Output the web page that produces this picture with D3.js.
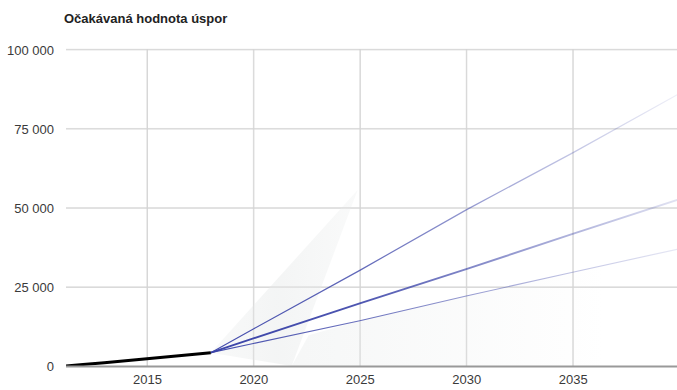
<!DOCTYPE html>
<html>
<head>
<meta charset="utf-8">
<script src="https://cdn.jsdelivr.net/npm/d3@7"></script>
<style>
  html, body { margin: 0; padding: 0; background: #fff; }
  svg { display: block; font-family: "Liberation Sans", Arial, sans-serif; }
</style>
</head>
<body>
<svg id="chart" width="677" height="390"></svg>
<script>
// Historical savings (black line)
const histYears  = [2011.2, 2012, 2013, 2014, 2015, 2016, 2017, 2018];
const histValues = [0, 450, 1050, 1650, 2300, 2900, 3550, 4200];

// Projection scenarios (blue lines)
const projYears   = [2018, 2020, 2025, 2030, 2035, 2040];
const projHigh    = [4200, 11700, 30200, 49300, 67300, 86000];
const projMid     = [4200, 8700, 19800, 30600, 41700, 52600];
const projLow     = [4200, 7100, 14300, 22100, 29600, 37000];

// Faint uncertainty wedge and shaded area below the low scenario
const wedgeYears  = [2018, 2024.9, 2021.8];
const wedgeValues = [4200, 55600, 0];
const shadeYears  = [2021.8, 2022.6, 2025, 2030, 2035, 2036.5, 2036.5];
const shadeValues = [0, 9700, 14300, 22100, 29600, 31700, 0];

const xTicks = [2015, 2020, 2025, 2030, 2035];
const yTicks = [0, 25000, 50000, 75000, 100000];
const title = "Očakávaná hodnota úspor";

const svg = d3.select("#chart");
const plotLeft = 66, plotRight = 677, plotTop = 49.3, plotBottom = 366;

const x = d3.scaleLinear().domain([2011.2, 2039.9]).range([plotLeft, plotRight]);
const y = d3.scaleLinear().domain([0, 100000]).range([plotBottom, plotTop]);

const defs = svg.append("defs");
defs.append("clipPath").attr("id", "plot")
  .append("rect").attr("x", plotLeft).attr("y", 0)
  .attr("width", plotRight - plotLeft).attr("height", plotBottom + 1);

// Title
svg.append("text")
  .attr("x", 64).attr("y", 23)
  .attr("font-size", 13).attr("font-weight", "bold").attr("fill", "#222")
  .text(title);

// Horizontal gridlines + labels
const yAxis = d3.axisLeft(y).tickValues(yTicks)
  .tickSize(-(plotRight - plotLeft)).tickPadding(12)
  .tickFormat(d => d3.format(",")(d).replace(/,/g, " "));
const gy = svg.append("g").attr("transform", `translate(${plotLeft},0)`).call(yAxis);
gy.select(".domain").remove();
gy.selectAll(".tick line").attr("stroke", "#d4d4d4").attr("stroke-width", 1);
gy.selectAll(".tick text").attr("font-size", 13).attr("fill", "#3a3a3a")
  .attr("font-family", "'Liberation Sans', Arial, sans-serif")
  .attr("dy", "0.38em");

// Vertical gridlines + labels
const xAxis = d3.axisBottom(x).tickValues(xTicks)
  .tickSize(-(plotBottom - plotTop)).tickPadding(9).tickFormat(d3.format("d"));
const gx = svg.append("g").attr("transform", `translate(0,${plotBottom})`).call(xAxis);
gx.select(".domain").remove();
gx.selectAll(".tick line").attr("stroke", "#d4d4d4").attr("stroke-width", 1);
gx.selectAll(".tick text").attr("font-size", 13).attr("fill", "#3a3a3a")
  .attr("font-family", "'Liberation Sans', Arial, sans-serif");

const plot = svg.append("g").attr("clip-path", "url(#plot)");

// Shading
const shadeGrad = defs.append("linearGradient").attr("id", "shadeGrad")
  .attr("gradientUnits", "userSpaceOnUse")
  .attr("x1", x(2021.8)).attr("x2", x(2036.5)).attr("y1", 0).attr("y2", 0);
shadeGrad.append("stop").attr("offset", 0).attr("stop-color", "#eef0f0").attr("stop-opacity", 0.55);
shadeGrad.append("stop").attr("offset", 1).attr("stop-color", "#eef0f0").attr("stop-opacity", 0);

const poly = d3.line().x(d => x(d[0])).y(d => y(d[1]));
plot.append("path")
  .attr("d", poly(d3.zip(shadeYears, shadeValues)) + "Z")
  .attr("fill", "url(#shadeGrad)");

const wedgeGrad = defs.append("linearGradient").attr("id", "wedgeGrad")
  .attr("gradientUnits", "userSpaceOnUse")
  .attr("x1", x(2018)).attr("x2", x(2024.9)).attr("y1", 0).attr("y2", 0);
wedgeGrad.append("stop").attr("offset", 0).attr("stop-color", "#eceeee").attr("stop-opacity", 0.35);
wedgeGrad.append("stop").attr("offset", 0.45).attr("stop-color", "#eceeee").attr("stop-opacity", 0.6);
wedgeGrad.append("stop").attr("offset", 1).attr("stop-color", "#eceeee").attr("stop-opacity", 0.3);
plot.append("path")
  .attr("d", poly(d3.zip(wedgeYears, wedgeValues)) + "Z")
  .attr("fill", "url(#wedgeGrad)");

// Grid re-drawn on top of shading
plot.append("g").selectAll("line").data(yTicks.filter(d => d > 0)).join("line")
  .attr("x1", plotLeft).attr("x2", plotRight).attr("y1", d => y(d)).attr("y2", d => y(d))
  .attr("stroke", "#d4d4d4").attr("stroke-width", 1).attr("stroke-opacity", 0.6);
plot.append("g").selectAll("line").data(xTicks).join("line")
  .attr("x1", d => x(d)).attr("x2", d => x(d)).attr("y1", plotTop).attr("y2", plotBottom)
  .attr("stroke", "#d4d4d4").attr("stroke-width", 1).attr("stroke-opacity", 0.6);

// Baseline
svg.append("line")
  .attr("x1", plotLeft).attr("x2", plotRight).attr("y1", y(0) + 0.5).attr("y2", y(0) + 0.5)
  .attr("stroke", "#999").attr("stroke-width", 2);

// Projection lines fading towards the right
const line = d3.line().x(d => x(d[0])).y(d => y(d[1]));
const scenarios = [
  { id: "high", values: projHigh, width: 1.2, fade: [0.95, 0.8, 0.4, 0.08] },
  { id: "low",  values: projLow,  width: 1.2, fade: [0.95, 0.75, 0.4, 0.12] },
  { id: "mid",  values: projMid,  width: 1.9, fade: [1, 0.9, 0.5, 0.15] }
];
const stopsAt = [2018, 2025, 2033, 2040];
scenarios.forEach(s => {
  const g = defs.append("linearGradient").attr("id", "fade-" + s.id)
    .attr("gradientUnits", "userSpaceOnUse")
    .attr("x1", x(2018)).attr("x2", x(2040)).attr("y1", 0).attr("y2", 0);
  stopsAt.forEach((yr, i) => {
    g.append("stop").attr("offset", (yr - 2018) / 22)
      .attr("stop-color", "#3a43a8").attr("stop-opacity", s.fade[i]);
  });
  plot.append("path")
    .attr("d", line(d3.zip(projYears, s.values)))
    .attr("fill", "none")
    .attr("stroke", `url(#fade-${s.id})`)
    .attr("stroke-width", s.width);
});

// Historical line
plot.append("path")
  .attr("d", line(d3.zip(histYears, histValues)))
  .attr("fill", "none").attr("stroke", "#000").attr("stroke-width", 3)
  .attr("stroke-linecap", "butt");
</script>
</body>
</html>
